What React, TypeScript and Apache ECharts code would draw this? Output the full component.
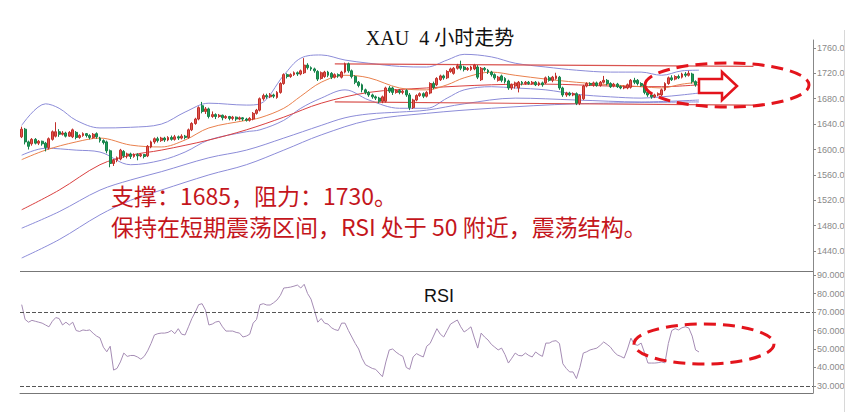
import React, { useEffect, useRef } from "react";
import * as echarts from "echarts";

// ---- data ----
const TOTAL_SLOTS = 233; // category slots on the time axis (candles + empty room on the right)

// [open, close, low, high]
const ohlc: number[][] = [
  [1620,1632,1618,1636],[1632,1612,1608,1634],[1612,1605,1600,1614],[1609,1616,1606,1618],[1616,1610,1608,1618],
  [1610,1613,1607,1615],[1613,1609,1606,1614],[1610,1603,1597,1612],[1603,1617,1600,1619],[1616,1628,1614,1630],
  [1621,1628,1619,1643],[1628,1624,1620,1632],[1624,1626,1622,1629],[1626,1621,1619,1628],[1621,1627,1620,1629],
  [1620,1631,1618,1633],[1627,1619,1616,1629],[1619,1622,1617,1624],[1622,1625,1620,1627],[1625,1622,1619,1626],
  [1622,1619,1616,1624],[1619,1624,1617,1626],[1625,1620,1617,1627],[1618,1614,1611,1620],[1614,1611,1608,1616],
  [1612,1598,1594,1614],[1598,1578,1572,1600],[1578,1583,1574,1585],[1583,1587,1580,1589],[1585,1599,1583,1601],
  [1597,1590,1587,1599],[1590,1593,1586,1595],[1593,1589,1585,1595],[1589,1592,1587,1594],[1592,1590,1583,1594],
  [1590,1592,1588,1594],[1592,1589,1586,1593],[1590,1605,1588,1607],[1604,1612,1602,1614],[1612,1617,1609,1619],
  [1617,1614,1611,1620],[1614,1618,1612,1620],[1618,1615,1612,1620],[1615,1619,1613,1621],[1619,1616,1614,1622],
  [1616,1620,1614,1623],[1620,1618,1615,1622],[1618,1621,1616,1624],[1621,1619,1616,1623],[1619,1631,1617,1633],
  [1631,1641,1629,1643],[1641,1648,1639,1650],[1648,1666,1646,1668],[1669,1660,1657,1675],[1660,1664,1656,1667],
  [1664,1652,1649,1666],[1652,1655,1650,1660],[1655,1652,1648,1657],[1652,1654,1650,1656],[1654,1650,1646,1655],
  [1650,1652,1648,1654],[1652,1649,1646,1653],[1649,1651,1646,1653],[1651,1648,1645,1652],[1648,1650,1646,1652],
  [1650,1648,1645,1651],[1648,1646,1644,1650],[1646,1649,1644,1651],[1648,1657,1646,1659],[1657,1662,1655,1664],
  [1662,1680,1660,1682],[1680,1685,1677,1688],[1685,1683,1680,1688],[1683,1686,1681,1689],[1686,1684,1681,1688],
  [1682,1690,1680,1692],[1690,1704,1688,1706],[1704,1718,1702,1720],[1718,1715,1712,1720],[1715,1718,1713,1720],
  [1718,1721,1716,1723],[1721,1719,1716,1723],[1719,1724,1717,1726],[1721,1733,1719,1744],[1733,1729,1726,1736],
  [1729,1727,1724,1731],[1727,1724,1721,1729],[1723,1711,1708,1725],[1712,1721,1710,1723],[1715,1722,1713,1724],
  [1722,1717,1714,1724],[1720,1714,1711,1722],[1714,1718,1712,1720],[1718,1716,1713,1720],[1714,1722,1712,1724],
  [1722,1735,1720,1737],[1735,1724,1721,1737],[1724,1715,1712,1726],[1715,1706,1703,1717],[1706,1701,1698,1708],
  [1702,1694,1690,1704],[1694,1690,1687,1696],[1690,1686,1683,1692],[1686,1683,1680,1688],[1683,1681,1678,1685],
  [1681,1676,1673,1683],[1676,1683,1673,1685],[1676,1697,1674,1699],[1697,1692,1689,1700],[1697,1690,1686,1699],
  [1690,1693,1688,1695],[1693,1690,1687,1695],[1690,1692,1687,1694],[1693,1686,1683,1695],[1686,1666,1662,1689],
  [1666,1678,1664,1680],[1678,1685,1676,1687],[1685,1688,1683,1690],[1688,1684,1681,1690],[1684,1690,1682,1692],
  [1689,1704,1687,1706],[1704,1698,1695,1707],[1702,1712,1700,1714],[1710,1716,1708,1718],[1716,1713,1710,1718],
  [1713,1723,1711,1725],[1723,1727,1721,1729],[1720,1728,1718,1730],[1728,1732,1726,1735],[1732,1728,1725,1740],
  [1730,1726,1723,1732],[1726,1728,1724,1730],[1726,1730,1724,1732],[1727,1733,1725,1735],[1730,1714,1711,1733],
  [1710,1728,1708,1730],[1728,1726,1723,1730],[1725,1722,1719,1727],[1722,1718,1715,1724],[1718,1713,1710,1720],
  [1709,1714,1707,1716],[1716,1709,1706,1718],[1712,1707,1704,1714],[1708,1697,1694,1710],[1697,1702,1694,1704],
  [1700,1705,1696,1707],[1697,1706,1690,1708],[1706,1704,1701,1708],[1704,1706,1702,1708],[1706,1704,1702,1708],
  [1704,1706,1702,1708],[1706,1702,1700,1708],[1702,1705,1700,1707],[1705,1702,1699,1707],[1705,1713,1703,1715],
  [1713,1709,1707,1716],[1709,1714,1706,1716],[1712,1716,1710,1721],[1714,1697,1694,1716],[1697,1686,1683,1699],
  [1686,1689,1683,1691],[1689,1686,1684,1691],[1686,1688,1684,1690],[1688,1673,1670,1690],[1673,1685,1670,1687],
  [1680,1700,1678,1702],[1700,1704,1698,1706],[1704,1702,1700,1706],[1702,1705,1699,1707],[1705,1701,1699,1707],
  [1701,1706,1699,1708],[1706,1709,1704,1716],[1709,1704,1701,1711],[1704,1699,1697,1706],[1700,1703,1698,1705],
  [1703,1699,1697,1705],[1699,1697,1695,1701],[1697,1699,1695,1701],[1697,1702,1695,1704],[1698,1709,1696,1711],
  [1709,1706,1703,1713],[1709,1704,1701,1711],[1704,1701,1699,1706],[1702,1690,1687,1704],[1690,1686,1683,1692],
  [1686,1683,1680,1688],[1683,1686,1681,1688],[1686,1688,1684,1690],[1686,1694,1684,1696],[1694,1704,1692,1706],
  [1704,1713,1702,1715],[1713,1710,1708,1717],[1711,1715,1709,1717],[1715,1713,1711,1718],[1714,1719,1712,1721],
  [1719,1717,1714,1722],[1717,1720,1715,1724],[1719,1707,1704,1721],[1707,1702,1699,1709],[1702,1705,1700,1707]
];

const rsi: number[] = [
  74,66,64.5,65.5,65,64.5,64,63,62,65,67,66.5,63,64.5,63,64.5,60,59.5,60.3,60,
  60.3,58.5,57,56,51,48.5,51.5,38.6,39.5,43,47.8,46,46.5,46.5,45.7,44.5,46,49,53,57.6,
  58.3,58.6,58.6,59,60,58.3,61,58,57.6,62,66.5,70,74,74.5,71,63,63.5,64.6,65,62,
  59.7,59.7,59.7,59,58.6,56.5,57,58,64,66,74,74.5,73.8,73.8,75,76.5,79,83,83.2,83.5,
  84,84.6,83,85,80,77,71,64.5,66.5,64,63.5,61.5,60.5,60,64,64,60,56.5,53,50,
  45,41.5,40.5,39.5,39,37,35,43,49.5,50,48.3,47,46,40,39,45.7,47.5,46.5,45.7,51.5,
  53,57,61,58,56.5,60,63.5,64.6,65.7,62,59.2,60.5,62,56,50.5,58.6,56.5,54.9,52.5,51,
  49.5,50.5,47,42.4,45,47.8,46.5,46.3,47.8,46.5,45.7,48.4,47,46,53.2,53.2,54.2,54.5,53,42,
  39.5,37.6,37.6,34,40,47.8,48.5,49.5,50,50.5,52,53.8,52.5,51,48.5,46.8,46,45.1,50,55.9,
  52.5,52,53.2,48,42.4,42.4,42.4,42.6,43,42.5,53,60,61,60.3,61.5,62,61.4,57,49.5,48.4
];

// indicator lines, sampled as [candle index, price]
const bandUpper: number[][] = [
  [0,1638],[7,1672],[11,1665],[16,1646],[23,1634],[32,1635],[41,1640],[48,1659],[55,1673],[66,1670],
  [70,1672],[77,1717],[82,1744],[88,1749],[95,1741],[102,1736],[111,1731],[119,1730],[125,1741],[130,1750],
  [138,1746],[145,1736],[154,1730],[163,1725],[173,1722],[182,1722],[188,1717],[194,1724],[199,1725]
];
const bandLower: number[][] = [
  [0,1591],[7,1602],[16,1599],[23,1596],[32,1576],[41,1583],[48,1596],[55,1615],[66,1628],[70,1631],
  [77,1646],[82,1665],[88,1681],[95,1694],[102,1678],[111,1665],[119,1665],[125,1681],[130,1694],[138,1699],
  [145,1697],[154,1694],[163,1687],[173,1683],[182,1681],[188,1683],[194,1686],[199,1689]
];
const maFast: number[][] = [
  [0,1584],[7,1599],[16,1612],[23,1618],[32,1607],[41,1604],[48,1615],[55,1634],[66,1646],[70,1650],
  [77,1665],[82,1684],[88,1706],[95,1717],[102,1713],[111,1697],[119,1694],[125,1702],[130,1713],[138,1722],
  [145,1717],[154,1711],[163,1706],[173,1702],[182,1699],[188,1697],[194,1703],[199,1706]
];
const maSlow: number[][] = [
  [0,1505],[11,1536],[23,1576],[32,1591],[41,1599],[55,1615],[66,1631],[77,1651],[88,1673],[102,1690],
  [119,1697],[138,1702],[154,1703],[173,1700],[188,1699],[199,1702]
];
const envLower: number[][] = [
  [0,1476],[11,1502],[23,1536],[32,1552],[41,1565],[55,1587],[66,1599],[77,1618],[88,1638],[95,1650],
  [102,1656],[111,1659],[119,1662],[130,1672],[145,1681],[163,1678],[182,1675],[199,1678]
];
const envLower2: number[][] = [
  [0,1429],[11,1458],[23,1497],[32,1520],[41,1536],[55,1560],[66,1576],[77,1599],[88,1623],[102,1646],
  [119,1657],[138,1665],[163,1672],[199,1675]
];
const channelTop: number[][] = [[92,1735],[215,1731]];
const channelBottom: number[][] = [[92,1675],[215,1670]];

const priceTicks = [1440, 1480, 1520, 1560, 1600, 1640, 1680, 1720, 1760];
const rsiTicks = [30, 40, 50, 60, 70, 80, 90];
const rsiLevels = [70, 30];
const dayTicks = [2, 17, 31, 49, 62, 81, 101, 120, 137, 164, 183, 201, 214, 232];

const TITLE = "XAU  4 小时走势";
const NOTE_1 = "支撑：1685，阻力：1730。";
const NOTE_2 = "保持在短期震荡区间，RSI 处于 50 附近，震荡结构。";

const RED = "#e3141c";
const PURPLE = "#8c8cd8";

export default function App() {
  const ref = useRef<HTMLDivElement>(null);
  useEffect(() => {
    if (!ref.current) return;
    const chart = echarts.init(ref.current, undefined, { renderer: "svg" });
    const cats = Array.from({ length: TOTAL_SLOTS }, (_, i) => String(i));
    const lineSeries = (data: number[][], color: string, width = 1) => ({
      type: "line",
      xAxisIndex: 0,
      yAxisIndex: 0,
      data,
      showSymbol: false,
      smooth: 0.35,
      silent: true,
      lineStyle: { color, width },
      z: 1,
    });
    const axisFont = { fontSize: 9, color: "#8a8a8a", fontFamily: "Liberation Sans", margin: 4 };
    const noteStyle = (text: string) => ({
      text, fill: "#c4161c", font: '23px "Noto Sans CJK SC"', lineHeight: 24,
      align: "left", verticalAlign: "middle", textAlign: "left", textVerticalAlign: "middle",
    });
    chart.setOption({
      animation: false,
      backgroundColor: "#fff",
      grid: [
        { left: 20, right: 43, top: 40, bottom: 141 },
        { left: 20, right: 43, top: 271, bottom: 19 },
      ],
      xAxis: [
        { type: "category", gridIndex: 0, data: cats, show: false, boundaryGap: true },
        {
          type: "category", gridIndex: 1, data: cats, boundaryGap: true,
          axisLine: { lineStyle: { color: "#777", width: 1 } },
          axisTick: { interval: (i: number) => dayTicks.includes(i), length: 3, lineStyle: { color: "#777" } },
          axisLabel: { show: false },
          splitLine: { show: false },
        },
      ],
      yAxis: [
        {
          type: "value", gridIndex: 0, position: "right", min: 1408.5, max: 1772.6,
          axisLine: { show: true, lineStyle: { color: "#888" } },
          axisTick: { show: true, length: 3, customValues: priceTicks, lineStyle: { color: "#888" } },
          axisLabel: { ...axisFont, customValues: priceTicks, formatter: (v: number) => v.toFixed(2) },
          splitLine: { show: false },
        },
        {
          type: "value", gridIndex: 1, position: "right", min: 26.2, max: 92.2,
          axisLine: { show: true, lineStyle: { color: "#888" } },
          axisTick: { show: true, length: 3, customValues: rsiTicks, lineStyle: { color: "#888" } },
          axisLabel: { ...axisFont, customValues: rsiTicks, formatter: (v: number) => v.toFixed(4) },
          splitLine: { show: false },
        },
      ],
      series: [
        lineSeries(envLower2, PURPLE),
        lineSeries(envLower, PURPLE),
        lineSeries(bandUpper, PURPLE),
        lineSeries(bandLower, PURPLE),
        lineSeries(maSlow, "#d94040"),
        lineSeries(maFast, "#e9804d"),
        { ...lineSeries(channelTop, "#d9534f", 1.2), smooth: false },
        { ...lineSeries(channelBottom, "#d9534f", 1.2), smooth: false },
        {
          type: "candlestick",
          xAxisIndex: 0,
          yAxisIndex: 0,
          data: ohlc,
          barWidth: 2.4,
          silent: true,
          z: 3,
          itemStyle: {
            color: "#e0554e", color0: "#1f9b55",
            borderColor: "#c0302a", borderColor0: "#16814a", borderWidth: 1,
          },
        },
        {
          type: "line",
          xAxisIndex: 1,
          yAxisIndex: 1,
          data: rsi,
          showSymbol: false,
          silent: true,
          lineStyle: { color: "#a58cb4", width: 1 },
          markLine: {
            silent: true,
            symbol: ["none", "none"],
            label: { show: false },
            lineStyle: { type: "dashed", color: "#555", width: 1 },
            data: rsiLevels.map((v) => ({ yAxis: v })),
          },
        },
      ],
      graphic: [
        { type: "line", shape: { x1: 20, y1: 271.5, x2: 813, y2: 271.5 }, style: { stroke: "#777", lineWidth: 1 }, z: 10 },
        { type: "rect", shape: { x: 845, y: 0, width: 11, height: 412 }, style: { fill: "#fff" }, z: 20 },
        { type: "line", shape: { x1: 844.5, y1: 30, x2: 844.5, y2: 412 }, style: { stroke: "#d8d8d8", lineWidth: 1 }, z: 21 },
        {
          type: "text", x: 440, y: 38, z: 10,
          style: { text: TITLE, fill: "#111", font: '20px "Liberation Serif", "Noto Sans CJK SC"', align: "center", verticalAlign: "middle", textAlign: "center", textVerticalAlign: "middle" },
        },
        { type: "text", x: 111, y: 195, z: 10, style: noteStyle(NOTE_1) },
        { type: "text", x: 111, y: 226, z: 10, style: noteStyle(NOTE_2) },
        {
          type: "text", x: 439, y: 296, z: 10,
          style: { text: "RSI", fill: "#111", font: '18px "Liberation Sans"', align: "center", verticalAlign: "middle", textAlign: "center", textVerticalAlign: "middle" },
        },
        {
          type: "ellipse", z: 12, shape: { cx: 727, cy: 85, rx: 82, ry: 22 },
          style: { fill: "none", stroke: RED, lineWidth: 3, lineDash: [12, 7] },
        },
        {
          type: "polygon", z: 12,
          shape: { points: [[699, 79], [722, 79], [722, 72], [737, 86], [722, 100], [722, 93], [699, 93]] },
          style: { fill: "#fff", stroke: RED, lineWidth: 2.5 },
        },
        {
          type: "ellipse", z: 12, shape: { cx: 704, cy: 344, rx: 70, ry: 20 },
          style: { fill: "none", stroke: RED, lineWidth: 3, lineDash: [12, 7] },
        },
      ],
    });
    return () => chart.dispose();
  }, []);
  return <div ref={ref} style={{ width: 856, height: 412, position: "absolute", left: 0, top: 0 }} />;
}
